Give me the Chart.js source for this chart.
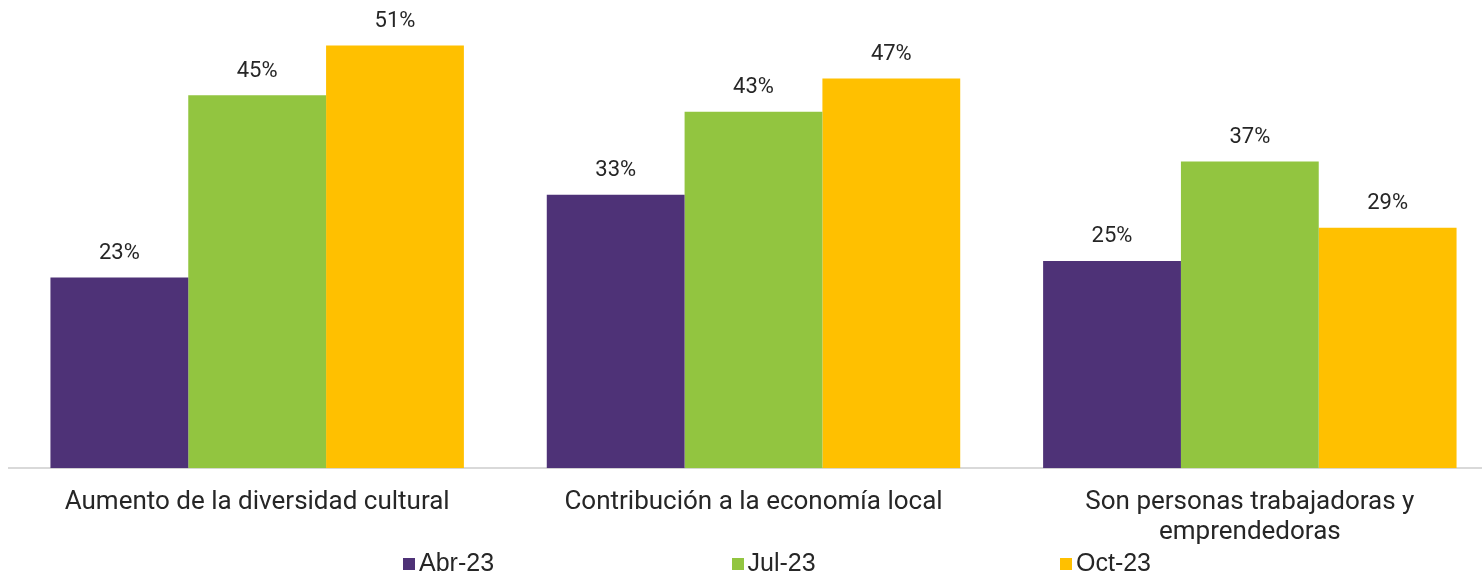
<!DOCTYPE html>
<html lang="es">
<head>
<meta charset="utf-8">
<title>Percepción</title>
<script src="https://cdn.jsdelivr.net/npm/chart.js@4.4.1/dist/chart.umd.min.js"></script>
<style>
  html, body { margin: 0; padding: 0; background: #fff; overflow: hidden; }
  #page { position: relative; width: 1482px; height: 575px; overflow: hidden; }
  #chartBox { position: absolute; left: 0; top: 0; width: 1498px; height: 575px; }
  #legend {
    position: absolute; left: 403px; top: 548px; height: 28px;
    display: flex; font-family: "Liberation Sans", Arial, sans-serif;
    font-size: 25px; line-height: 28px; color: #262626;
  }
  #legend .item { width: 328.5px; display: flex; align-items: center; }
  #legend .box { width: 12px; height: 12px; margin-right: 4px; margin-top: 3px; }
</style>
</head>
<body>
<div id="page">
  <div id="chartBox"><canvas id="barChart"></canvas></div>
  <div id="legend"></div>
</div>
<script>
// ==========================================
// Datos
// ==========================================
const categories = [
  'Aumento de la diversidad cultural',
  'Contribución a la economía local',
  ['Son personas trabajadoras y', 'emprendedoras']
];
const seriesNames = ['Abr-23', 'Jul-23', 'Oct-23'];
const abrValues = [23, 33, 25];
const julValues = [45, 43, 37];
const octValues = [51, 47, 29];

const seriesColors = ['#4E3277', '#92C540', '#FFC000'];

// ==========================================
// Etiquetas de valor sobre cada barra
// ==========================================
const valueLabels = {
  id: 'valueLabels',
  afterDatasetsDraw(chart) {
    const ctx = chart.ctx;
    ctx.save();
    ctx.font = '22px Roboto';
    ctx.fillStyle = '#262626';
    ctx.textAlign = 'center';
    ctx.textBaseline = 'middle';
    chart.data.datasets.forEach((ds, i) => {
      chart.getDatasetMeta(i).data.forEach((bar, j) => {
        ctx.fillText(ds.data[j] + '%', bar.x, bar.y - 24);
      });
    });
    ctx.restore();
  }
};

function buildDatasets() {
  const values = [abrValues, julValues, octValues];
  return seriesNames.map((name, i) => ({
    label: name,
    data: values[i],
    backgroundColor: seriesColors[i],
    borderWidth: 0,
    barPercentage: 1,
    categoryPercentage: 0.833
  }));
}

// leyenda en HTML para poder separar los elementos como en el original
function renderLegend() {
  const html = seriesNames.map((name, i) => `
    <div class="item"><span class="box" style="background:${seriesColors[i]}"></span>${name}</div>
  `).join('');
  document.getElementById('legend').innerHTML = html;
}

new Chart(document.getElementById('barChart'), {
  type: 'bar',
  data: { labels: categories, datasets: buildDatasets() },
  options: {
    responsive: true,
    maintainAspectRatio: false,
    animation: false,
    layout: { padding: { left: 9, right: 0, top: 4, bottom: 17 } },
    plugins: {
      legend: { display: false },
      tooltip: { enabled: false }
    },
    scales: {
      x: {
        grid: { display: false },
        border: { display: true, color: '#d9d9d9', width: 2 },
        ticks: {
          font: { family: 'Roboto', size: 26, lineHeight: 1.15 },
          color: '#262626',
          padding: 11,
          maxRotation: 0,
          autoSkip: false
        }
      },
      y: {
        display: false,
        min: 0,
        max: 56
      }
    }
  },
  plugins: [valueLabels]
});

renderLegend();
</script>
</body>
</html>
